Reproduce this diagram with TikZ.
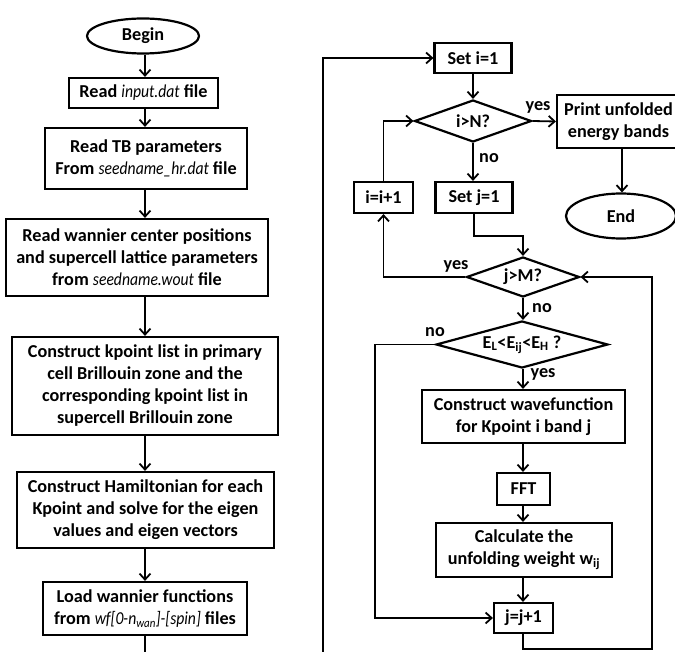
\documentclass[tikz,border=0pt]{standalone}
\usepackage{fontspec}
\usepackage{graphicx}
\setmainfont{Carlito}
\usetikzlibrary{shapes.geometric,arrows.meta}
\newcommand{\fname}[1]{\scalebox{0.86}[1]{\mdseries\itshape #1}}
\begin{document}
\begin{tikzpicture}[x=1pt,y=-1pt,
  every node/.style={font=\bfseries\fontsize{18.2}{22}\selectfont},
  box/.style={draw,line width=2.2pt,inner sep=0pt,align=center},
  oval/.style={draw,ellipse,line width=2.2pt,inner sep=0pt},
  decision/.style={draw,diamond,line width=2.2pt,inner sep=0pt},
  lbl/.style={inner sep=0pt},
  flow/.style={line width=1.8pt,-{Straight Barb[length=6pt,width=11pt]}},
  plain/.style={line width=1.8pt}]
\useasboundingbox (0,0) rectangle (675,652);
% left column
\coordinate (colL) at (145,0);
\node[oval,minimum width=112pt,minimum height=35pt] (begin) at (143,36) {Begin};
\node[box,minimum width=149pt,minimum height=30pt] (read) at (143.5,93) {Read \fname{input.dat} file};
\node[box,minimum width=202pt,minimum height=61pt] (tb) at (146,158.5) {Read TB parameters\\From \fname{seedname\_hr.dat} file};
\node[box,minimum width=262pt,minimum height=77pt] (wc) at (137,257.5) {Read wannier center positions\\and supercell lattice parameters\\from \fname{seedname.wout} file};
\node[box,minimum width=266pt,minimum height=98pt] (kp) at (145,386) {Construct kpoint list in primary\\cell Brillouin zone and the\\corresponding kpoint list in\\supercell Brillouin zone};
\node[box,minimum width=257pt,minimum height=76pt] (ham) at (145.5,510) {Construct Hamiltonian for each\\Kpoint and solve for the eigen\\values and eigen vectors};
\node[box,minimum width=204pt,minimum height=53pt] (load) at (145,608.5) {Load wannier functions\\from \fname{wf[0-n\textsubscript{wan}]-[spin]} files};
\coordinate (loadout) at (145,652);
\draw[flow] (begin.south -| colL) -- (read.north -| colL);
\draw[flow] (read.south -| colL) -- (tb.north -| colL);
\draw[flow] (tb.south -| colL) -- (wc.north -| colL);
\draw[flow] (wc.south -| colL) -- (kp.north -| colL);
\draw[flow] (kp.south -| colL) -- (ham.north -| colL);
\draw[flow] (ham.south -| colL) -- (load.north -| colL);
\draw[plain] (load.south -| colL) -- (loadout);
% right part
\coordinate (loopin) at (323,652);
\node[box,minimum width=77pt,minimum height=30pt] (seti) at (473,58) {Set i=1};
\node[decision,minimum width=117pt,minimum height=42pt] (d1) at (473,121) {};
\node[lbl] (d1t) at (d1) {i>N?};
\node[box,minimum width=123pt,minimum height=53pt] (print) at (618.5,121.5) {Print unfolded\\energy bands};
\node[oval,minimum width=110pt,minimum height=45pt] (end) at (621,216) {End};
\node[box,minimum width=77pt,minimum height=31pt] (setj) at (474,197.5) {Set j=1};
\node[box,minimum width=59pt,minimum height=31pt] (iinc) at (383.5,197.5) {i=i+1};
\node[decision,minimum width=113pt,minimum height=40pt] (d2) at (523,277) {};
\node[lbl] (d2t) at (d2) {j>M?};
\node[decision,minimum width=172pt,minimum height=47pt] (d3) at (522,344.5) {};
\node[lbl] (d3t) at (d3) {E\textsubscript{L}<E\textsubscript{ij}<E\textsubscript{H} ?};
\node[box,minimum width=203pt,minimum height=53pt] (cw) at (523.5,416.5) {Construct wavefunction\\for Kpoint i band j};
\node[box,minimum width=53pt,minimum height=32pt] (fft) at (523.5,489) {FFT};
\node[box,minimum width=176pt,minimum height=54pt] (calc) at (524,550) {Calculate the\\unfolding weight w\textsubscript{ij}};
\node[box,minimum width=59pt,minimum height=30pt] (jinc) at (523.5,618) {j=j+1};
\coordinate (rb) at (652,649);
\coordinate (colR) at (523,0);
\coordinate (colP) at (622,0);
% connectors
\draw[flow] (loopin) |- (seti.west);
\draw[flow] (seti) -- (d1);
\draw[flow] (d1.east) -- (print.west);
\node[lbl] (yes1) at (538,107) {yes};
\draw[flow] (print.south -| colP) -- (end.north -| colP);
\draw[flow] (d1.south) -- (d1.south |- setj.north);
\node[lbl] (no1) at (489,158) {no};
\draw[flow] (setj.south) -- ++(0,22) -| (d2.north);
\draw[flow] (d2.west) -| (iinc.south);
\node[lbl] (yes2) at (456,266) {yes};
\draw[flow] (iinc.north) |- (d1.west);
\draw[flow] (d2.south) -- (d2.south |- d3.north);
\node[lbl] (no2) at (542,308) {no};
\draw[flow] (d3.west) -- ++(-60,0) |- (jinc.west);
\node[lbl] (no3) at (435,332) {no};
\draw[flow] (d3.south -| colR) -- (cw.north -| colR);
\node[lbl] (yes3) at (543,374) {yes};
\draw[flow] (cw.south -| colR) -- (fft.north -| colR);
\draw[flow] (fft.south -| colR) -- (calc.north -| colR);
\draw[flow] (calc.south -| colR) -- (jinc.north -| colR);
\draw[flow] (jinc.south -| colR) |- (rb) |- (d2.east);
\end{tikzpicture}
\end{document}
